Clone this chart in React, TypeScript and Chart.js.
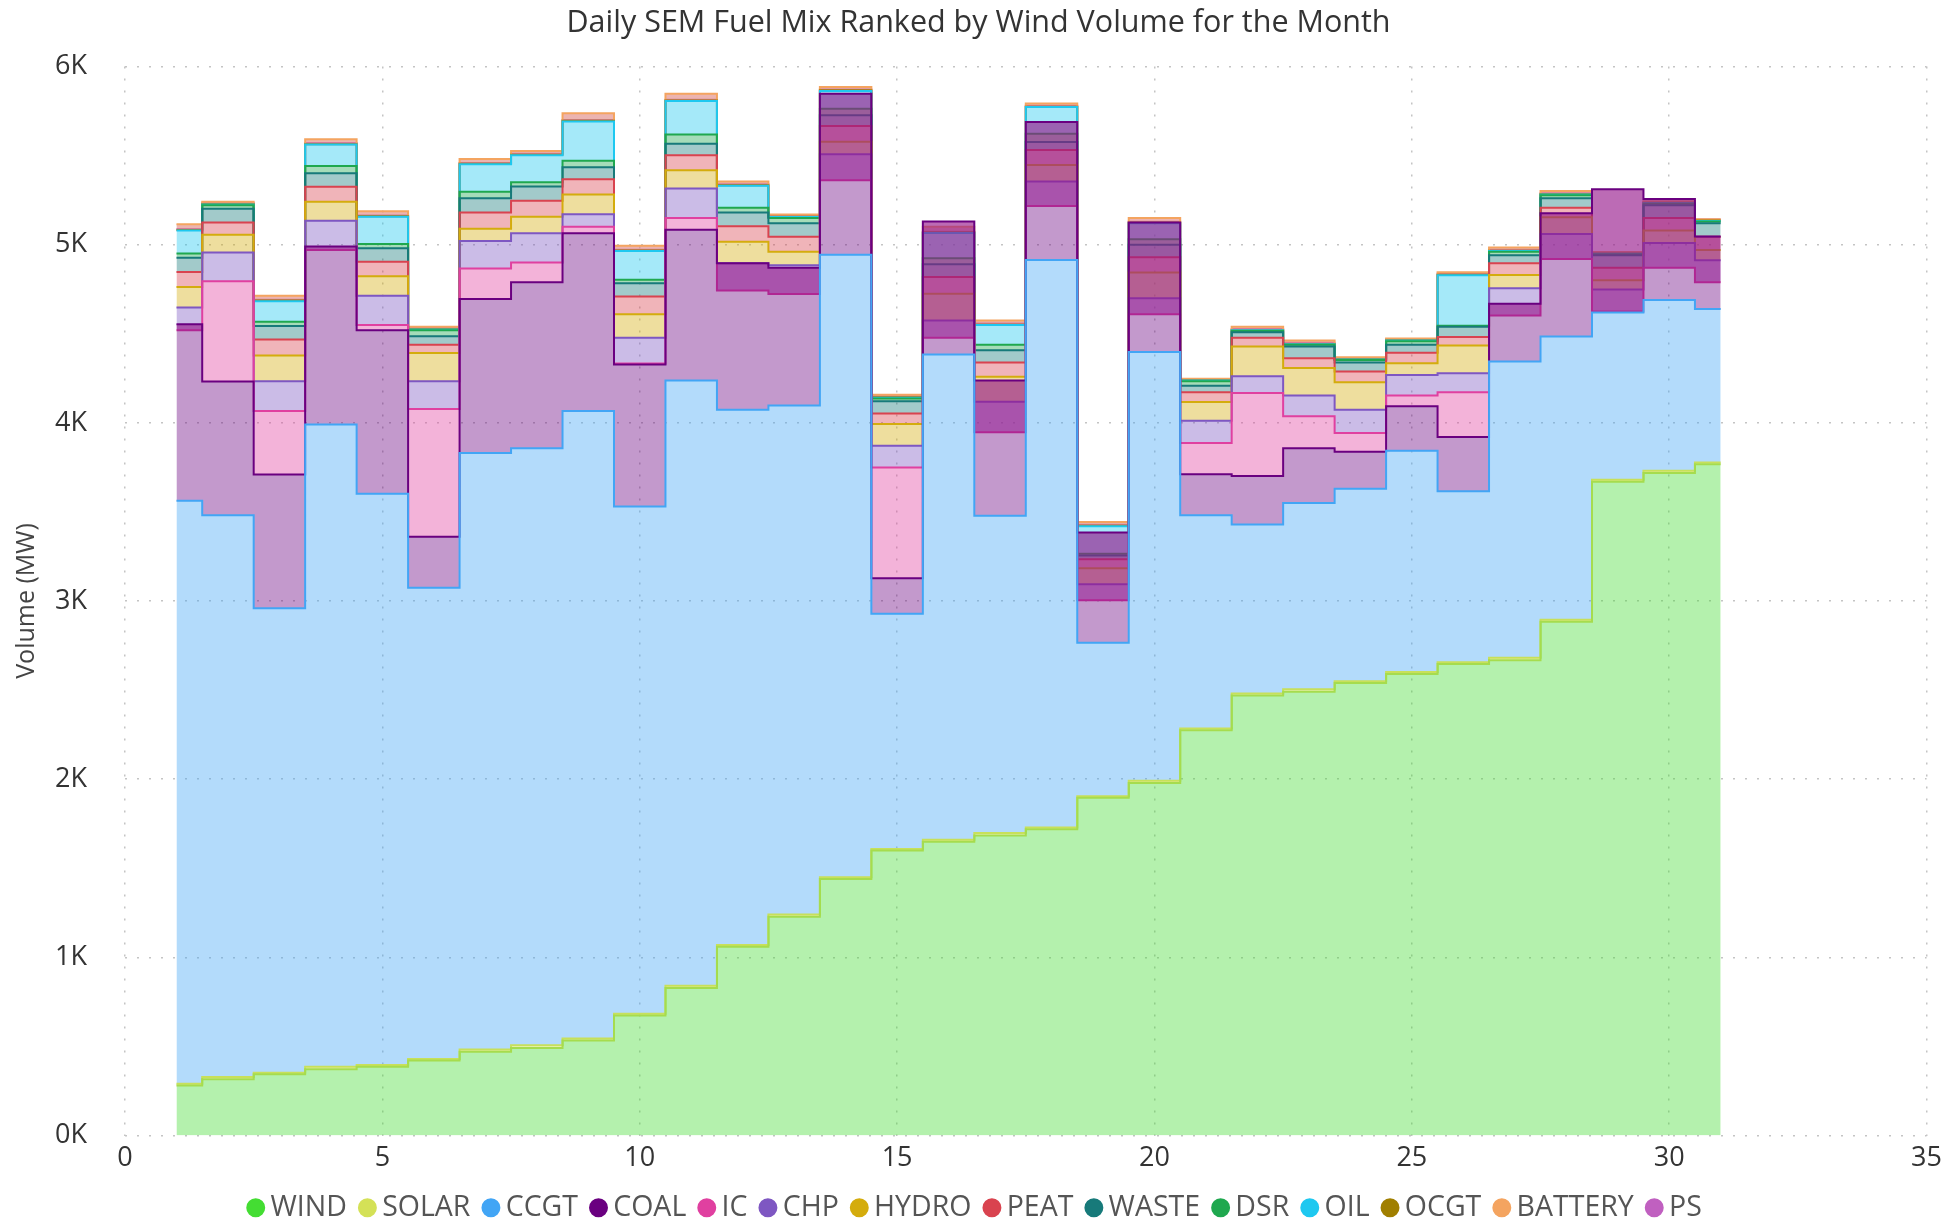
import React, { useEffect, useRef } from 'react';
import { Chart, registerables } from 'chart.js';

Chart.register(...registerables);

const DAYS = [1, 2, 3, 4, 5, 6, 7, 8, 9, 10, 11, 12, 13, 14, 15, 16, 17, 18, 19, 20, 21, 22, 23, 24, 25, 26, 27, 28, 29, 30, 31];

const WIND = [280, 316, 344, 372, 386, 421, 470, 491, 533, 674, 828, 1060, 1228, 1439, 1600, 1649, 1684, 1719, 1895, 1979, 2274, 2470, 2491, 2540, 2590, 2646, 2667, 2884, 3670, 3719, 3768];
const SOLAR = [10, 12, 8, 14, 10, 9, 12, 15, 11, 10, 13, 9, 12, 10, 8, 11, 14, 10, 9, 12, 10, 11, 13, 9, 12, 10, 14, 11, 10, 12, 9];
const CCGT = [3272, 3153, 2608, 3605, 3206, 2644, 3348, 3351, 3523, 2846, 3397, 3004, 2857, 3495, 1320, 2724, 1781, 3185, 861, 2407, 1197, 948, 1046, 1081, 1241, 960, 1663, 1589, 939, 958, 862];
const COAL = [991, 751, 750, 999, 917, 287, 865, 932, 997, 798, 846, 823, 773, 903, 200, 746, 759, 774, 620, 726, 231, 273, 307, 207, 250, 305, 325, 693, 692, 568, 407];
const IC = [-34, 563, 357, -20, 30, 716, 171, 111, 36, 5, 66, -153, -147, -486, 622, -652, -291, -471, -381, -515, 175, 466, 180, 106, 60, 251, -66, -257, -686, -387, -257];
const CHP = [128, 161, 167, 164, 164, 157, 154, 164, 71, 145, 165, 153, 161, 147, 121, 97, 171, 138, 90, 90, 124, 94, 116, 130, 115, 106, 152, 140, 124, 140, 124];
const HYDRO = [116, 100, 144, 107, 110, 158, 70, 92, 110, 131, 102, 120, 76, 70, 122, 150, 140, 92, 90, 145, 106, 166, 155, 155, 66, 156, 75, 94, 51, 70, 57];
const PEAT = [83, 68, 90, 84, 81, 46, 91, 91, 86, 100, 85, 88, 84, 88, 60, 94, 80, 85, 51, 86, 55, 50, 54, 60, 60, 48, 66, 53, 70, 70, 74];
const WASTE = [80, 77, 75, 76, 76, 48, 80, 80, 68, 74, 64, 77, 76, 60, 68, 71, 70, 44, 20, 70, 36, 30, 66, 50, 44, 57, 44, 54, 70, 71, 76];
const DSR = [24, 20, 24, 40, 24, 33, 36, 24, 36, 20, 52, 26, 30, 37, 16, 34, 30, 46, 10, 30, 26, 8, 10, 14, 20, 6, 20, 16, 6, 8, 10];
const OIL = [130, 5, 116, 121, 152, 5, 154, 151, 221, 161, 188, 124, 5, 100, 4, 141, 111, 150, 155, 90, 3, 3, 3, 3, 4, 284, 4, 4, 3, 4, 3];
const OCGT = [3, 2, 3, 2, 3, 2, 3, 2, 4, 3, 3, 2, 2, 3, 2, 3, 2, 2, 3, 3, 2, 2, 2, 2, 2, 2, 2, 3, 2, 2, 2];
const BATTERY = [31, 13, 27, 28, 28, 13, 27, 22, 42, 27, 38, 22, 13, 19, 14, 32, 24, 18, 21, 27, 9, 18, 19, 11, 10, 14, 18, 17, 8, 8, 8];
const PS = [-26, -7, -22, -22, -23, -7, -22, -16, -38, -22, -33, -16, -7, -14, -8, -27, -18, -12, -16, -22, -3, -12, -13, -5, -4, -8, -12, -12, -2, -2, -2];

const SERIES: { label: string; color: string; line: string; values: number[] }[] = [
  { label: 'WIND', color: '#44dd33', line: '#a6dc4e', values: WIND },
  { label: 'SOLAR', color: '#d4e157', line: '#c8e05a', values: SOLAR },
  { label: 'CCGT', color: '#42a5f5', line: '#42a5f5', values: CCGT },
  { label: 'COAL', color: '#6a0080', line: '#6a0080', values: COAL },
  { label: 'IC', color: '#e040a0', line: '#e040a0', values: IC },
  { label: 'CHP', color: '#7e57c2', line: '#7e57c2', values: CHP },
  { label: 'HYDRO', color: '#d4ac0d', line: '#d4ac0d', values: HYDRO },
  { label: 'PEAT', color: '#d9434f', line: '#d9434f', values: PEAT },
  { label: 'WASTE', color: '#177a7a', line: '#177a7a', values: WASTE },
  { label: 'DSR', color: '#1fa84f', line: '#1fa84f', values: DSR },
  { label: 'OIL', color: '#1ec8f0', line: '#1ec8f0', values: OIL },
  { label: 'OCGT', color: '#a07f00', line: '#a07f00', values: OCGT },
  { label: 'BATTERY', color: '#f4a460', line: '#f4a460', values: BATTERY },
  { label: 'PS', color: '#c060c0', line: '#c060c0', values: PS },
];

const X_MAX = 35;
const Y_MAX = 6000;
const FONT = "'Open Sans', 'Noto Sans', sans-serif";

export default function App() {
  const ref = useRef<HTMLCanvasElement | null>(null);

  useEffect(() => {
    if (!ref.current) return;
    document.documentElement.style.overflow = 'hidden';
    document.body.style.overflow = 'hidden';
    const datasets = SERIES.map((s, i) => ({
      label: s.label,
      data: DAYS.map((d, j) => ({ x: d, y: s.values[j] })),
      borderColor: s.line,
      backgroundColor: s.color + '66',
      pointBackgroundColor: s.color,
      pointBorderColor: s.color,
      pointRadius: 0,
      pointHoverRadius: 0,
      borderWidth: 2,
      stepped: 'middle' as const,
      fill: i === 0 ? 'origin' : '-1',
      tension: 0,
    }));

    const chart = new Chart(ref.current, {
      type: 'line',
      data: { datasets },
      options: {
        animation: false,
        responsive: true,
        maintainAspectRatio: false,
        layout: { padding: { left: 0, right: 0, top: 0, bottom: 0 } },
        plugins: {
          title: {
            display: true,
            text: 'Daily SEM Fuel Mix Ranked by Wind Volume for the Month',
            color: '#333',
            font: { family: FONT, size: 30.5, weight: 'normal', lineHeight: 1 },
            padding: { top: 0, bottom: 28 },
          },
          legend: {
            position: 'bottom',
            labels: {
              usePointStyle: true,
              pointStyle: 'circle',
              boxWidth: 1,
              boxHeight: 12,
              padding: 20,
              color: '#555',
              font: { family: FONT, size: 28.5 },
            },
          },
          tooltip: { enabled: false },
        },
        scales: {
          x: {
            type: 'linear',
            min: 0,
            max: X_MAX,
            ticks: { stepSize: 5, color: '#333', padding: 7, font: { family: FONT, size: 27 } },
            grid: { color: '#c4c4c4', lineWidth: 1.5, drawTicks: false },
            border: { display: false, dash: [2, 10] },
            afterFit: (s: any) => { s.height = 38; },
          },
          y: {
            stacked: 'single' as any,
            min: 0,
            max: Y_MAX,
            ticks: {
              stepSize: 1000,
              color: '#333',
              padding: 38,
              font: { family: FONT, size: 27 },
              callback: (v: any) => Number(v) / 1000 + 'K',
            },
            title: { display: true, text: 'Volume (MW)', color: '#444', font: { family: FONT, size: 25 } },
            grid: { color: '#c4c4c4', lineWidth: 1.5, drawTicks: false },
            border: { display: false, dash: [2, 10] },
            afterFit: (s: any) => { s.width = 117; },
          },
        },
      },
    });
    let alive = true;
    if ((document as any).fonts && (document as any).fonts.load) {
      Promise.all([
        (document as any).fonts.load("28px 'Open Sans'"),
        (document as any).fonts.ready,
      ]).then(() => { if (alive) chart.update(); }).catch(() => {});
    }
    return () => { alive = false; chart.destroy(); };
  }, []);

  return (
    <div style={{ width: 1941, height: 1224 }}>
      <canvas ref={ref} />
    </div>
  );
}
